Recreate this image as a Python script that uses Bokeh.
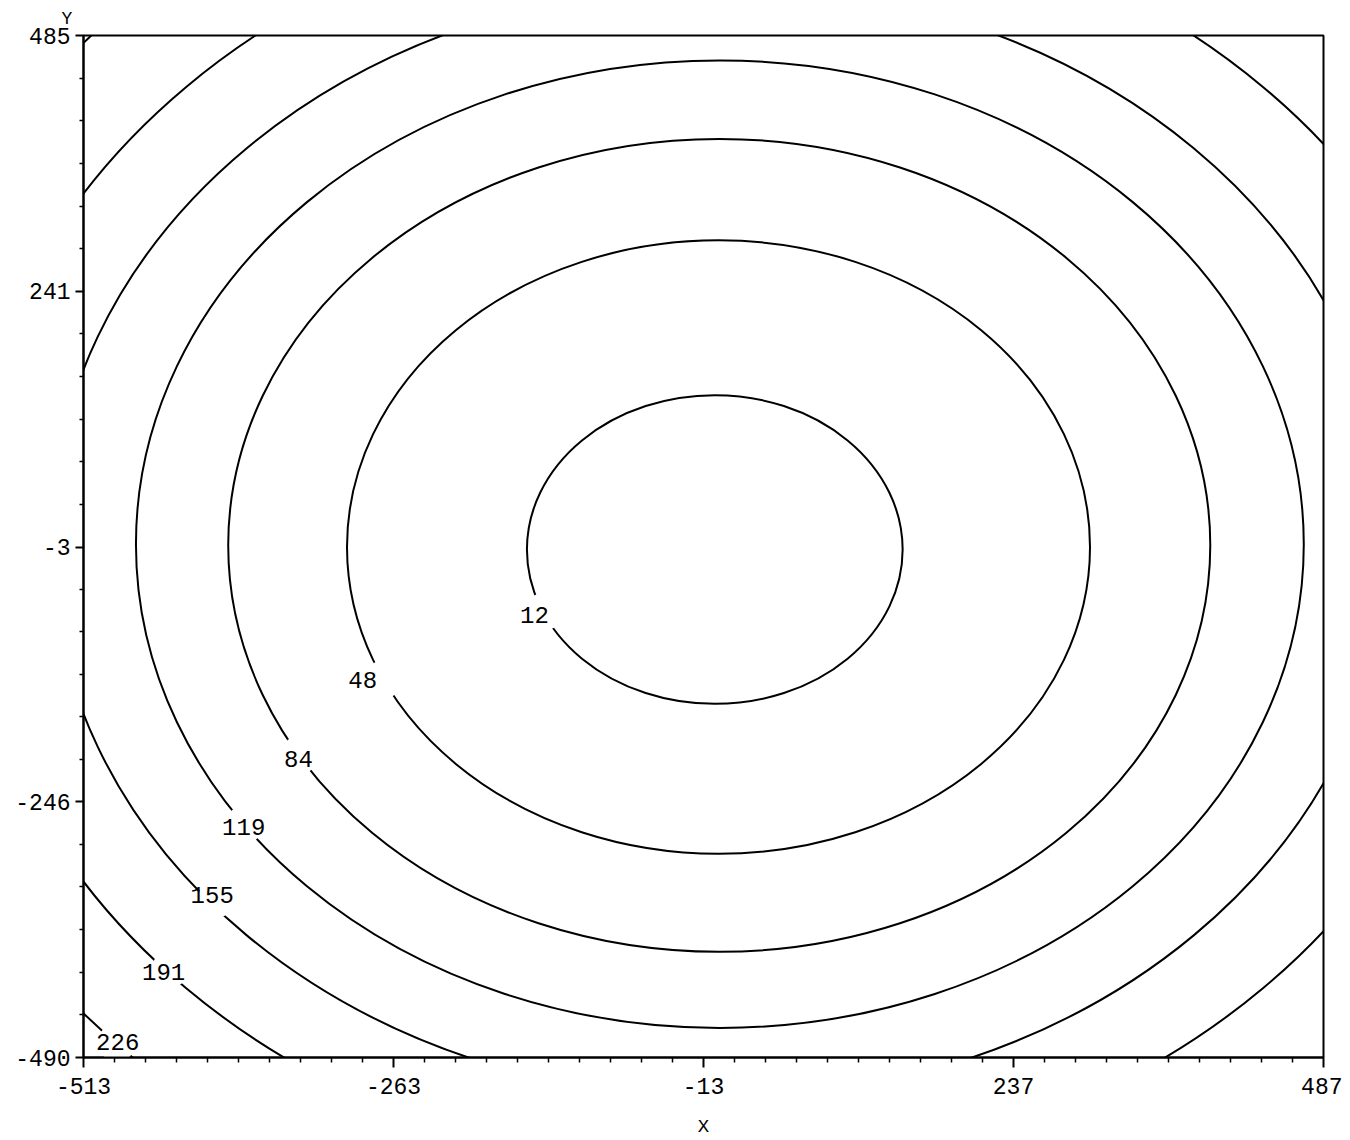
from bokeh.plotting import figure
from bokeh.models import FixedTicker, Range1d, Title
from bokeh.embed import file_html
from bokeh.resources import INLINE
from bokeh.core.properties import value

# ---- data ----
levels = [12, 48, 84, 119, 155, 191, 226]
center_x = [-3.9, -0.9, -0.3, 0.2, 0.5, 4.0, 30.0]
center_y = [-5.4, -3.0, -1.4, -0.3, 2.0, 6.0, 15.0]
semi_x = [151.5, 299.6, 396.0, 470.9, 540.0, 614.0, 716.0]
semi_y = [147.3, 292.6, 387.9, 461.5, 531.0, 608.0, 710.0]

label_text = [str(v) for v in levels]
label_x = [-149.3, -287.8, -339.6, -383.8, -409.2, -448.4, -485.4]
label_y = [-67.5, -129.8, -205.0, -270.3, -334.7, -408.5, -475.3]
gap_x = [-140.2, -270.3, -338.9, -382.8, -405.4, -441.9, -486.1]
gap_y = [-63.8, -128.8, -201.5, -267.3, -338.3, -404.2, -475.7]

x_ticks = [-513, -263, -13, 237, 487]
x_tick_labels = ["-513", "-263", "-13", "237", "487"]
y_ticks = [-490, -246, -3, 241, 485]
y_tick_labels = ["-490", "-246", "-3", "241", "485"]

FONT = "Liberation Mono"


def subdivide(ticks, n):
    out = []
    for a, b in zip(ticks[:-1], ticks[1:]):
        step = (b - a) / n
        out += [a + step * k for k in range(1, n)]
    return out


y_title = Title(text="Y", align="left", offset=-22, standoff=13,
                text_font=FONT, text_font_size="18px",
                text_font_style="normal", text_color="black")

p = figure(width=1342, height=1140,
           x_range=Range1d(x_ticks[0], x_ticks[-1]),
           y_range=Range1d(y_ticks[0], y_ticks[-1]),
           min_border_left=83, min_border_right=19,
           min_border_top=35, min_border_bottom=82,
           output_backend="svg", toolbar_location=None, title=y_title)

p.background_fill_color = "white"
p.border_fill_color = "white"
p.xgrid.visible = False
p.ygrid.visible = False
p.outline_line_color = "black"
p.outline_line_width = 2
p.outline_line_alpha = 1.0

# contours
p.ellipse(x=center_x, y=center_y,
          width=[2 * s for s in semi_x], height=[2 * s for s in semi_y],
          fill_color=None, line_color="black", line_width=2)

# gaps in the lines behind the labels
p.scatter(x=gap_x, y=gap_y, size=38, marker="circle",
          fill_color="white", line_color=None)

p.text(x=label_x, y=label_y, text=label_text,
       text_font=value(FONT), text_font_size="24px",
       text_align="center", text_baseline="middle", text_color="black")

# axes
p.xaxis.ticker = FixedTicker(ticks=x_ticks, minor_ticks=subdivide(x_ticks, 10))
p.yaxis.ticker = FixedTicker(ticks=y_ticks, minor_ticks=subdivide(y_ticks, 6))
p.xaxis.major_label_overrides = dict(zip(x_ticks, x_tick_labels))
p.yaxis.major_label_overrides = dict(zip(y_ticks, y_tick_labels))

for ax in (p.xaxis[0], p.yaxis[0]):
    ax.axis_line_color = "black"
    ax.axis_line_width = 2
    ax.major_tick_line_color = "black"
    ax.major_tick_line_width = 2
    ax.minor_tick_line_color = "black"
    ax.minor_tick_line_width = 1.5
    ax.major_tick_in = 0
    ax.minor_tick_in = 0
    ax.major_label_text_font = FONT
    ax.major_label_text_font_size = "23px"
    ax.major_label_text_color = "black"

p.xaxis.major_tick_out = 10
p.xaxis.minor_tick_out = 5
p.xaxis.major_label_standoff = 10
p.yaxis.major_tick_out = 8
p.yaxis.minor_tick_out = 4
p.yaxis.major_label_standoff = 5

p.xaxis.axis_label = "X"
p.xaxis.axis_label_text_font = FONT
p.xaxis.axis_label_text_font_size = "19px"
p.xaxis.axis_label_text_font_style = "normal"
p.xaxis.axis_label_text_color = "black"
p.xaxis.axis_label_standoff = 19

open("out.html", "w").write(file_html(p, INLINE))
